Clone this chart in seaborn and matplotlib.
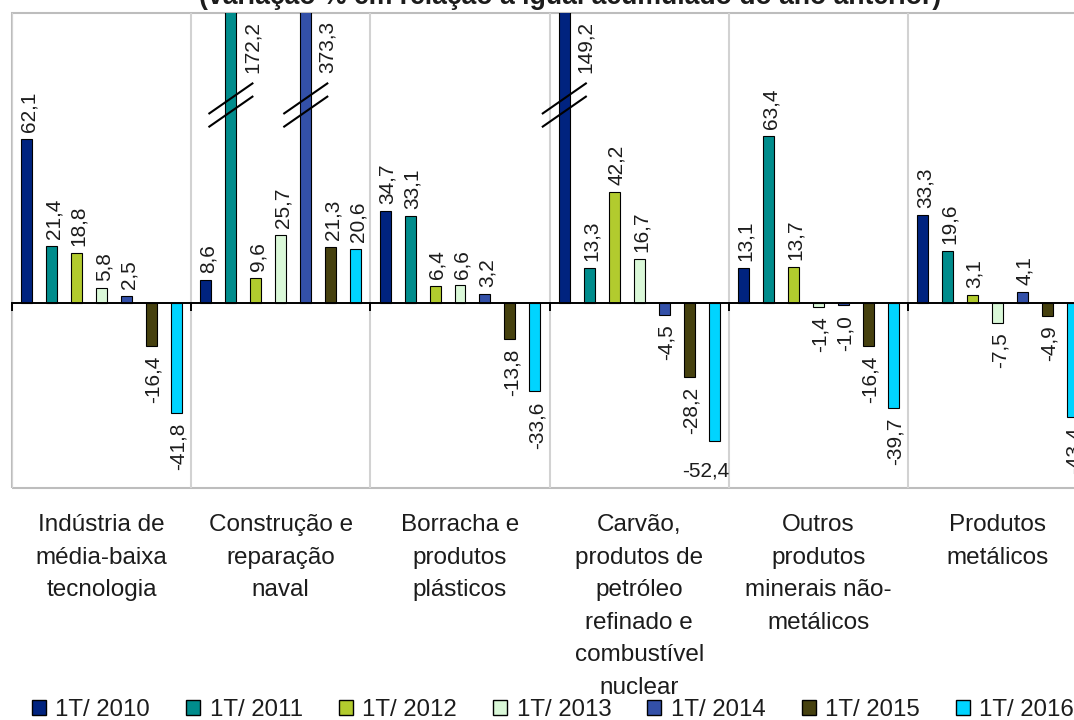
import numpy as np
import pandas as pd
import matplotlib.pyplot as plt
import seaborn as sns
from matplotlib.patches import Patch, Rectangle

sns.set_style('white')
plt.rcParams['font.family'] = ['Liberation Sans', 'DejaVu Sans']

categorias = ['Indústria de média-baixa tecnologia', 'Construção e reparação naval',
              'Borracha e produtos plásticos',
              'Carvão, produtos de petróleo refinado e combustível nuclear',
              'Outros produtos minerais não-metálicos', 'Produtos metálicos']
rotulos = ['Indústria de\nmédia-baixa\ntecnologia', 'Construção e\nreparação\nnaval',
           'Borracha e\nprodutos\nplásticos',
           'Carvão,\nprodutos de\npetróleo\nrefinado e\ncombustível\nnuclear',
           'Outros\nprodutos\nminerais não-\nmetálicos', 'Produtos\nmetálicos']
anos = ['1T/ 2010', '1T/ 2011', '1T/ 2012', '1T/ 2013', '1T/ 2014', '1T/ 2015', '1T/ 2016']
cores = ['#00237F', '#008C8C', '#B2CB2E', '#DAF8D8', '#3350A8', '#46410F', '#00D4FF']

v2010 = [62.1, 8.6, 34.7, 149.2, 13.1, 33.3]
v2011 = [21.4, 172.2, 33.1, 13.3, 63.4, 19.6]
v2012 = [18.8, 9.6, 6.4, 42.2, 13.7, 3.1]
v2013 = [5.8, 25.7, 6.6, 16.7, -1.4, -7.5]
v2014 = [2.5, 373.3, 3.2, -4.5, -1.0, 4.1]
v2015 = [-16.4, 21.3, -13.8, -28.2, -16.4, -4.9]
v2016 = [-41.8, 20.6, -33.6, -52.4, -39.7, -43.4]
valores = [v2010, v2011, v2012, v2013, v2014, v2015, v2016]

titulo = '(variação % em relação a igual acumulado do ano anterior)'

df = pd.DataFrame({
    'categoria': categorias * len(anos),
    'ano': np.repeat(anos, len(categorias)),
    'valor': np.concatenate(valores),
})

YMIN, YMAX = -70, 110
txt = '#1c1c1c'

fig = plt.figure(figsize=(10.74, 7.2), dpi=100)
ax = fig.add_axes([12 / 1074, 1 - 487.5 / 720, (1087.2 - 12) / 1074, (487.5 - 12.7) / 720])

sns.barplot(data=df, x='categoria', y='valor', hue='ano', order=categorias, hue_order=anos,
            palette=cores, saturation=1, width=0.975, gap=0.56, edgecolor='black',
            linewidth=0.8, errorbar=None, legend=False, ax=ax)

ax.set_ylim(YMIN, YMAX)
ax.set_xlim(-0.5, len(categorias) - 0.5)
ax.set_xlabel('')
ax.set_ylabel('')
ax.set_yticks([])


def fmt(v):
    return f'{v:.1f}'.replace('.', ',')


# rótulos dos valores
for cont, vals in zip(ax.containers, valores):
    pos = [fmt(v) if 0 <= v <= YMAX else '' for v in vals]
    neg = [fmt(v) if -48 < v < 0 else '' for v in vals]
    for t in ax.bar_label(cont, labels=pos, padding=5, rotation=90, fontsize=15, color=txt):
        t.xyann = (1.5, t.xyann[1])
    for t in ax.bar_label(cont, labels=neg, padding=7, rotation=90, fontsize=15, color=txt):
        t.xyann = (1.5, t.xyann[1])
    for bar, v in zip(cont, vals):
        xc = bar.get_x() + bar.get_width() / 2
        if v > YMAX:
            # barra cortada: rótulo ao lado e marca de quebra
            ax.text(xc + 0.12, 87, fmt(v), rotation=90, ha='center', va='bottom',
                    fontsize=15, color=txt, clip_on=False)
            for yb in (77.5, 72.5):
                ax.plot([xc - 0.125, xc + 0.125], [yb - 5.9, yb + 5.9], color='black',
                        lw=1.5, solid_capstyle='butt', zorder=5)
        elif v < -48:
            ax.annotate(fmt(v), (xc, v), xytext=(-6, -15), textcoords='offset points',
                        ha='center', va='top', fontsize=15, color=txt)

# eixo das categorias no zero, moldura cinza
for s in ['left', 'top', 'right']:
    ax.spines[s].set_visible(False)
ax.spines['bottom'].set_position(('data', 0))
ax.spines['bottom'].set_color('black')
ax.spines['bottom'].set_linewidth(1.4)
ax.add_patch(Rectangle((0, 0), 1, 1, transform=ax.transAxes, fill=False,
                       edgecolor='#BDBDBD', lw=1.5, clip_on=False, zorder=0.4))

ax.set_xticks(np.arange(len(categorias) + 1) - 0.5, minor=True)
ax.set_xticks(range(len(categorias)), labels=rotulos)
ax.grid(True, which='minor', axis='x', color='#D2D2D2', lw=1.5)
ax.set_axisbelow(True)
ax.tick_params(axis='x', which='minor', bottom=True, length=5.8, width=1.4,
               color='black', direction='out')
ax.tick_params(axis='x', which='major', bottom=True, length=0, pad=152,
               labelsize=17.5, labelcolor=txt)
for lbl in ax.get_xticklabels():
    lbl.set_linespacing(1.62)

fig.text(570 / 1074, 1 - 4 / 720, titulo, ha='center', va='baseline',
         fontsize=19.2, fontweight='bold', color=txt)

handles = [Patch(facecolor=c, edgecolor='black', lw=1.0, label=a) for c, a in zip(cores, anos)]
fig.legend(handles=handles, loc='center', bbox_to_anchor=(553 / 1074, 1 - 710 / 720),
           ncol=7, frameon=False, fontsize=17.3, handlelength=0.58, handleheight=0.58,
           handletextpad=0.4, columnspacing=1.5, borderaxespad=0, borderpad=0,
           labelcolor=txt)

fig.savefig('out.png', dpi=100)
